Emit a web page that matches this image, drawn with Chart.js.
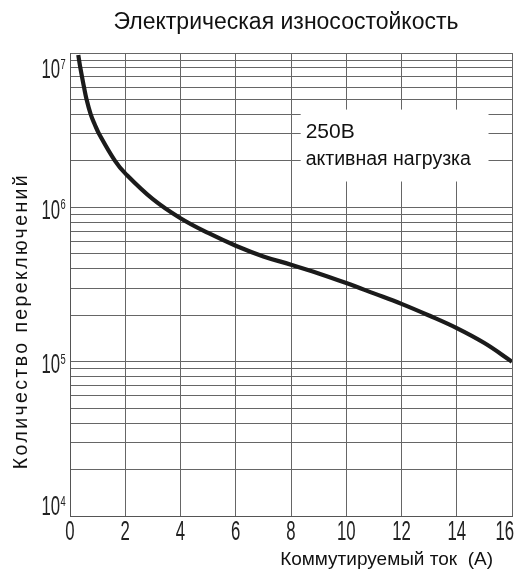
<!DOCTYPE html>
<html>
<head>
<meta charset="utf-8">
<script src="https://cdn.jsdelivr.net/npm/chart.js@4.4.1/dist/chart.umd.min.js"></script>
<style>
  html, body { margin: 0; padding: 0; background: #fff; }
  #wrap { width: 518px; height: 569px; }
</style>
</head>
<body>
<div id="wrap"><canvas id="chart" width="518" height="569"></canvas></div>
<script>
// values
const current = [0.3, 0.375, 0.5, 0.6, 0.75, 0.9, 1.05, 1.63, 2, 3, 4, 5, 6, 7, 8, 9, 10, 11, 12, 13, 14, 15, 16];
const cycles = [9.7e6, 8.0e6, 6.1e6, 5.0e6, 4.0e6, 3.43e6, 3.0e6, 2.0e6, 1.66e6, 1.13e6, 8.5e5, 6.82e5, 5.64e5, 4.81e5, 4.25e5, 3.73e5, 3.23e5, 2.77e5, 2.37e5, 1.99e5, 1.65e5, 1.32e5, 1.0e5];

const xTicks = [0, 2, 4, 6, 8, 10, 12, 14, 16];
const decades = [4, 5, 6];
const yLabelPowers = [4, 5, 6, 7];

const titleText = "Электрическая износостойкость";
const yTitle = "Количество переключений";
const xTitle = "Коммутируемый ток  (А)";
const noteLines = ["250В", "активная нагрузка"];

// y ticks: 1..9 x 10^k plus the top decade
const yTicks = [];
decades.forEach(function (k) {
  for (let m = 1; m <= 9; m++) yTicks.push(m * Math.pow(10, k));
});
yTicks.push(1e7);

const FONT = "'Liberation Sans', Arial, sans-serif";
const SQUEEZE = 0.62; // the reference tick digits are very condensed

function narrowText(ctx, text, x, y, size, align) {
  ctx.save();
  ctx.font = size + "px " + FONT;
  ctx.textAlign = align;
  ctx.textBaseline = "middle";
  ctx.translate(x, y);
  ctx.scale(SQUEEZE, 1);
  ctx.fillText(text, 0, 0);
  ctx.restore();
}

const textPlugin = {
  id: "texts",
  beforeDatasetsDraw(chart) {
    const ctx = chart.ctx;
    const xs = chart.scales.x;
    const ys = chart.scales.y;
    // note box covering the grid
    const left = xs.getPixelForValue(8.35);
    const right = xs.getPixelForValue(15.15);
    const top = ys.getPixelForValue(4.3e6);
    const bottom = ys.getPixelForValue(1.47e6);
    ctx.save();
    ctx.fillStyle = "#fff";
    ctx.fillRect(left, top, right - left, bottom - top);
    ctx.fillStyle = "#111";
    ctx.textBaseline = "alphabetic";
    ctx.textAlign = "left";
    ctx.font = "21px " + FONT;
    ctx.fillText(noteLines[0], left + 5, top + 28);
    ctx.font = "19.5px " + FONT;
    ctx.fillText(noteLines[1], left + 5, top + 55);
    ctx.restore();
  },
  afterDraw(chart) {
    const ctx = chart.ctx;
    const xs = chart.scales.x;
    const ys = chart.scales.y;
    const area = chart.chartArea;
    ctx.save();
    ctx.fillStyle = "#111";

    // title
    ctx.font = "23px " + FONT;
    ctx.textAlign = "center";
    ctx.textBaseline = "middle";
    ctx.fillText(titleText, 286, 23);

    // x tick labels
    ctx.fillStyle = "#222";
    xTicks.forEach(function (v) {
      let px = xs.getPixelForValue(v);
      ctx.font = "27px " + FONT;
      const half = ctx.measureText(String(v)).width * SQUEEZE / 2;
      if (px + half > chart.width - 4) px = chart.width - 4 - half;
      narrowText(ctx, String(v), px, area.bottom + 17, 27, "center");
    });

    // y tick labels 10^k
    yLabelPowers.forEach(function (k) {
      const py = ys.getPixelForValue(Math.pow(10, k));
      const cy = Math.min(Math.max(py + 4, area.top + 18), area.bottom - 8);
      narrowText(ctx, "10", area.left - 10, cy, 27, "right");
      narrowText(ctx, String(k), area.left - 9.5, cy - 6, 15, "left");
    });

    // axis titles
    ctx.fillStyle = "#111";
    ctx.font = "19px " + FONT;
    ctx.textBaseline = "middle";
    ctx.textAlign = "right";
    ctx.fillText(xTitle, 493, 560);
    ctx.translate(21.5, 321);
    ctx.rotate(-Math.PI / 2);
    ctx.textAlign = "center";
    ctx.font = "19.5px " + FONT;
    ctx.letterSpacing = "2.4px";
    ctx.fillText(yTitle, 0, 0);
    ctx.restore();
  }
};

const points = current.map(function (x, i) { return { x: x, y: cycles[i] }; });

new Chart(document.getElementById("chart"), {
  type: "line",
  data: {
    datasets: [{
      data: points,
      borderColor: "#1b1b1b",
      borderWidth: 4.2,
      pointRadius: 0,
      tension: 0.4,
      fill: false
    }]
  },
  options: {
    responsive: false,
    animation: false,
    layout: { padding: { left: 0, right: 6, top: 53, bottom: 0 } },
    plugins: {
      legend: { display: false },
      tooltip: { enabled: false },
      title: { display: false }
    },
    scales: {
      x: {
        type: "linear",
        min: 0,
        max: 16,
        afterBuildTicks: function (scale) {
          scale.ticks = xTicks.map(function (v) { return { value: v }; });
        },
        afterFit: function (scale) {
          scale.height = 53;
          scale.paddingLeft = 0;
          scale.paddingRight = 0;
        },
        ticks: { display: false, autoSkip: false },
        grid: { color: "#666", lineWidth: 1, drawTicks: false },
        border: { color: "#555", width: 1 }
      },
      y: {
        type: "logarithmic",
        min: 1e4,
        max: 1e7,
        afterBuildTicks: function (scale) {
          scale.ticks = yTicks.map(function (v) { return { value: v }; });
        },
        afterFit: function (scale) {
          scale.width = 70;
          scale.paddingTop = 0;
          scale.paddingBottom = 0;
        },
        ticks: { display: false, autoSkip: false },
        grid: { color: "#666", lineWidth: 1, drawTicks: false },
        border: { color: "#555", width: 1 }
      }
    }
  },
  plugins: [textPlugin]
});
</script>
</body>
</html>
